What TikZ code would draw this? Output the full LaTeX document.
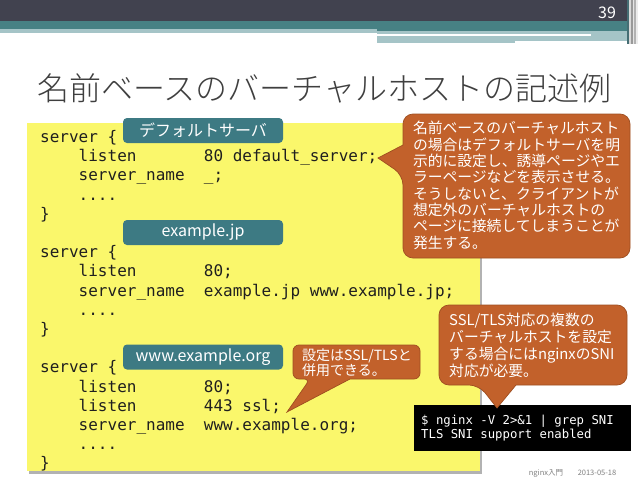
\documentclass[tikz,border=0pt]{standalone}
\usepackage{fontspec}
\setmainfont{Noto Sans CJK JP}
\setmonofont{DejaVu Sans Mono}
\newfontfamily\titlefont{Noto Sans CJK JP}[UprightFont=* Light]
\newlength\cw
\setlength\cw{9.632pt}
\definecolor{hdark}{HTML}{41424F}
\definecolor{hteal}{HTML}{478184}
\definecolor{hlight}{HTML}{A5C4C7}
\definecolor{titlec}{HTML}{3F3F3F}
\definecolor{codebg}{HTML}{FAF76B}
\definecolor{labelc}{HTML}{3D7A83}
\definecolor{callc}{HTML}{C2612B}
\definecolor{calle}{HTML}{9E4E20}
\definecolor{footc}{HTML}{7F7F7F}
\begin{document}
\begin{tikzpicture}[x=1pt,y=-1pt,
  code/.style={font=\ttfamily\fontsize{16}{19.2}\selectfont, anchor=base west, inner sep=0pt, text=black!88},
  tag/.style={fill=labelc, rounded corners=4pt, minimum width=160pt, minimum height=25pt, inner sep=0pt, text=white, font=\fontsize{16}{18}\selectfont},
  bubble/.style={fill=callc, draw=calle, line width=0.7pt},
  bubbletext/.style={text=white, align=left, inner sep=0pt}]
\useasboundingbox (0,0) rectangle (638,479);
\fill[white] (0,0) rectangle (638,479);
% header
\fill[hdark] (0,0) rectangle (638,21);
\fill[hteal] (0,21) rectangle (627,31);
\fill[hlight] (0,29) rectangle (377,33);
\fill[hlight] (377,31) rectangle (627,43);
\fill[white] (377,34.3) rectangle (591,35.8);
\fill[white] (515,41) rectangle (627,43.5);
\fill[hteal!70!hdark] (627,0) rectangle (629,44);
\fill[white!70!gray] (629,0) rectangle (630.5,44);
\fill[gray!80] (630.5,0) rectangle (632.5,44);
\fill[white!80!gray] (632.5,0) rectangle (634,44);
\fill[gray!60] (634,0) rectangle (636,44);
\fill[white!85!gray] (636,0) rectangle (638,44);
\node[text=white, font=\fontsize{16}{18}\selectfont, inner sep=0pt] (pg) at (607,13) {39};
% title
\node[anchor=west, text=titlec, font=\titlefont\fontsize{32}{34}\selectfont, inner sep=0pt] (title) at (37,88) {名前ベースのバーチャルホストの記述例};
% code box
\fill[black!30] (29,126) rectangle (482,473.5);
\fill[codebg] (27,123) rectangle (480,470.5);
\node[code] (l0) at (40,142.5) {server \{};
\node[code] (l1) at (40,161.7) {\hspace*{4\cw}listen\hspace*{7\cw}80 default\_server;};
\node[code] (l2) at (40,180.9) {\hspace*{4\cw}server\_name\hspace*{2\cw}\_;};
\node[code] (l3) at (40,200.1) {\hspace*{4\cw}....};
\node[code] (l4) at (40,219.3) {\}};
\node[code] (l6) at (40,257.7) {server \{};
\node[code] (l7) at (40,276.9) {\hspace*{4\cw}listen\hspace*{7\cw}80;};
\node[code] (l8) at (40,296.1) {\hspace*{4\cw}server\_name\hspace*{2\cw}example.jp www.example.jp;};
\node[code] (l9) at (40,315.3) {\hspace*{4\cw}....};
\node[code] (l10) at (40,334.5) {\}};
\node[code] (l12) at (40,372.9) {server \{};
\node[code] (l13) at (40,392.1) {\hspace*{4\cw}listen\hspace*{7\cw}80;};
\node[code] (l14) at (40,411.3) {\hspace*{4\cw}listen\hspace*{7\cw}443 ssl;};
\node[code] (l15) at (40,430.5) {\hspace*{4\cw}server\_name\hspace*{2\cw}www.example.org;};
\node[code] (l16) at (40,449.7) {\hspace*{4\cw}....};
\node[code] (l17) at (40,468.9) {\}};
% tags
\node[tag] (tag1) at (203,130.5) {デフォルトサーバ};
\node[tag] (tag2) at (203,232.5) {example.jp};
\node[tag] (tag3) at (203,357) {www.example.org};
% callout 1
\coordinate (t1) at (378,158);
\path[bubble] [rounded corners=10pt] (403,145) -- (403,114) -- (630,114) -- (630,258) -- (403,258) -- (403,175) [sharp corners] -- (t1) -- cycle;
\node[bubbletext, text width=212pt, font=\fontsize{14.8}{16.35}\selectfont] (c1) at (519,185.5) {名前ベースのバーチャルホスト\\の場合はデフォルトサーバを明\\示的に設定し、誘導ページやエ\\ラーページなどを表示させる。\\そうしないと、クライアントが\\想定外のバーチャルホストの\\ページに接続してしまうことが\\発生する。};
% black box
\fill[black] (414,405) rectangle (631,451);
\node[anchor=west, text=white, align=left, inner sep=0pt, font=\ttfamily\fontsize{12.3}{14}\selectfont] (cmd) at (421,428) {\$ nginx -V 2>\&1 | grep SNI\\TLS SNI support enabled};
% callout 2
\coordinate (t2) at (287,412);
\path[bubble] [rounded corners=6pt] (350,379) -- (420,379) -- (420,345) -- (293,345) -- (293,379) -- (310,379) [sharp corners] -- (t2) -- cycle;
\node[bubbletext, anchor=west, font=\fontsize{14}{15}\selectfont] (c2) at (302,362.5) {設定はSSL/TLSと\\併用できる。};
% callout 3
\coordinate (t3) at (497,408);
\path[bubble] [rounded corners=10pt] (516,385) -- (627,385) -- (627,305) -- (439,305) -- (439,385) -- (479,385) [sharp corners] -- (t3) -- cycle;
\node[bubbletext, anchor=west, font=\fontsize{14.8}{16.8}\selectfont] (c3) at (449,345.5) {SSL/TLS対応の複数の\\バーチャルホストを設定\\する場合にはnginxのSNI\\対応が必要。};
% footer
\node[text=footc, font=\fontsize{7.5}{9}\selectfont, inner sep=0pt] (f1) at (546,473) {nginx入門};
\node[text=footc, font=\fontsize{7.5}{9}\selectfont, inner sep=0pt] (f2) at (597,473) {2013-05-18};
\end{tikzpicture}
\end{document}
